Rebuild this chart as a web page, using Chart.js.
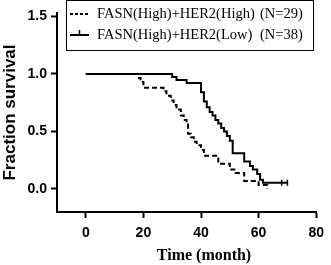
<!DOCTYPE html>
<html>
<head>
  <meta charset="UTF-8">
  <title>Fraction survival</title>
  <script src="https://cdn.jsdelivr.net/npm/chart.js"></script>
  <style>
    html, body { margin: 0; padding: 0; background: #fff; }
    #wrap { width: 331px; height: 265px; }
  </style>
</head>
<body>
  <div id="wrap"><canvas id="kmChart" width="331" height="265"></canvas></div>

  <script>
    // Kaplan-Meier curves (time in months, fraction surviving)
    const highT = [0, 18, 19, 20, 27, 28, 29.5, 30.5, 31.5, 33, 34, 35, 35.5, 36.5, 37.5, 38.5, 40, 41, 46, 50, 52, 55, 60, 63];
    const highS = [1, 0.966, 0.931, 0.88, 0.85, 0.81, 0.77, 0.73, 0.69, 0.64, 0.60, 0.56, 0.48, 0.45, 0.41, 0.38, 0.34, 0.29, 0.22, 0.17, 0.14, 0.07, 0.035, 0];

    const lowT = [0, 30, 31.5, 35, 40, 41, 42, 43, 44, 45, 46, 47, 48, 49, 50, 51, 55, 57, 58, 59.5, 60.5, 61.5, 70];
    const lowS = [1, 0.974, 0.947, 0.921, 0.84, 0.76, 0.71, 0.67, 0.64, 0.60, 0.57, 0.53, 0.50, 0.46, 0.42, 0.31, 0.24, 0.20, 0.17, 0.13, 0.08, 0.055, 0.055];

    // censored observations (tick marks)
    const lowCensorT = [68, 70];
    const lowCensorS = [0.055, 0.055];

    const legendLabels = ['FASN(High)+HER2(High)', 'FASN(High)+HER2(Low)'];
    const legendN = ['(N=29)', '(N=38)'];

    const xTicks = [0, 20, 40, 60, 80];
    const yTicks = [0, 0.5, 1.0, 1.5];
    const xTitle = 'Time (month)';
    const yTitle = 'Fraction survival';

    const toPts = (t, s) => t.map((v, i) => ({ x: v, y: s[i] }));

    const tickFont = { family: "'Liberation Sans', Arial, sans-serif", size: 14, weight: 'bold' };
    const serif = "'Liberation Serif', 'Times New Roman', serif";

    // legend box and x title drawn by hand (box sits inside the plot)
    const extras = {
      id: 'extras',
      afterDraw(chart) {
        const ctx = chart.ctx;
        const sets = chart.data.datasets;
        ctx.save();
        ctx.strokeStyle = '#000';
        ctx.lineWidth = 1;
        ctx.strokeRect(66.5, 0.5, 247, 50);

        ctx.font = '14.5px ' + serif;
        ctx.fillStyle = '#000';
        ctx.textBaseline = 'middle';
        const rows = [14, 35];
        for (let i = 0; i < 2; i++) {
          const y = rows[i];
          ctx.beginPath();
          ctx.lineWidth = 2;
          ctx.setLineDash(sets[i].borderDash ? [3, 2] : []);
          ctx.moveTo(70, y);
          ctx.lineTo(89, y);
          ctx.stroke();
          ctx.setLineDash([]);
          if (i === 1) {
            ctx.lineWidth = 1.5;
            ctx.beginPath();
            ctx.moveTo(79.5, y - 5);
            ctx.lineTo(79.5, y);
            ctx.stroke();
          }
          ctx.fillText(legendLabels[i], 97, y + 0.5);
          ctx.fillText(legendN[i], 260, y + 0.5);
        }

        const xs = chart.scales.x;
        const mid = xs.getPixelForValue((xTicks[0] + xTicks[xTicks.length - 1]) / 2);
        ctx.font = 'bold 16px ' + serif;
        ctx.textAlign = 'center';
        ctx.fillText(xTitle, mid + 3, 256);
        ctx.restore();
      }
    };

    new Chart(document.getElementById('kmChart'), {
      type: 'line',
      data: {
        datasets: [
          {
            label: legendLabels[0],
            data: toPts(highT, highS),
            borderColor: '#000',
            borderWidth: 2,
            borderDash: [5, 3],
            stepped: true,
            pointRadius: 0,
            fill: false
          },
          {
            label: legendLabels[1],
            data: toPts(lowT, lowS),
            borderColor: '#000',
            borderWidth: 2,
            stepped: true,
            pointRadius: 0,
            fill: false
          },
          {
            label: 'censored',
            data: toPts(lowCensorT, lowCensorS),
            showLine: false,
            pointStyle: 'line',
            rotation: 90,
            pointRadius: 3,
            borderColor: '#000',
            borderWidth: 1.5
          }
        ]
      },
      options: {
        responsive: false,
        animation: false,
        layout: { padding: { top: 13, right: 8, left: 0, bottom: 0 } },
        plugins: {
          legend: { display: false },
          tooltip: { enabled: false }
        },
        scales: {
          x: {
            type: 'linear',
            min: -10,
            max: 80,
            afterBuildTicks: (s) => { s.ticks = xTicks.map(v => ({ value: v })); },
            afterFit: (s) => { s.height = 53; },
            grid: { display: true, drawOnChartArea: false, tickLength: 6, tickColor: '#000', tickWidth: 2 },
            border: { color: '#000', width: 2 },
            ticks: { color: '#000', font: tickFont, padding: 7, maxRotation: 0 }
          },
          y: {
            min: -0.2,
            max: 1.53,
            afterBuildTicks: (s) => { s.ticks = yTicks.map(v => ({ value: v })); },
            afterFit: (s) => { s.width = 57; },
            grid: { display: true, drawOnChartArea: false, tickLength: 6, tickColor: '#000', tickWidth: 2 },
            border: { color: '#000', width: 2 },
            ticks: { color: '#000', font: tickFont, padding: 4, callback: (v) => v.toFixed(1) },
            title: {
              display: true,
              text: yTitle,
              color: '#000',
              padding: 0,
              font: { family: "'Liberation Sans', Arial, sans-serif", size: 17, weight: 'bold' }
            }
          }
        }
      },
      plugins: [extras]
    });
  </script>
</body>
</html>
